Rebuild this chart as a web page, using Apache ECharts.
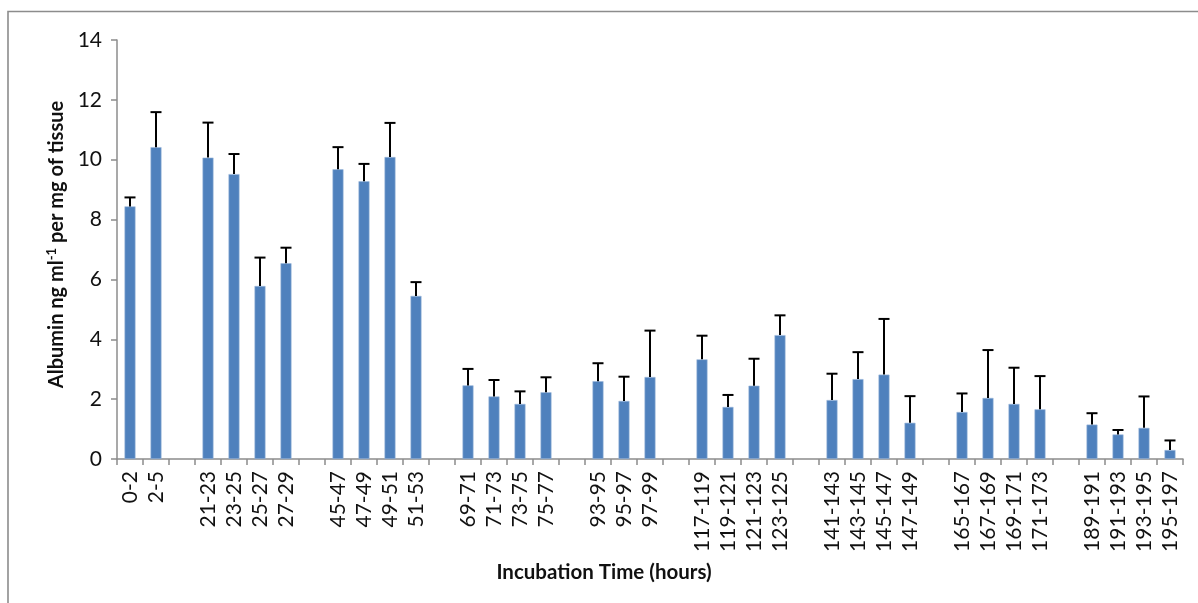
<!DOCTYPE html>
<html>
<head>
<meta charset="utf-8">
<script src="https://cdn.jsdelivr.net/npm/echarts@6/dist/echarts.min.js"></script>
<style>
  html, body { margin: 0; padding: 0; background: #fff; }
  #chart { width: 1198px; height: 603px; }
</style>
</head>
<body>
<div id="chart"></div>
<script>
// Incubation intervals (hours); empty strings separate the daily groups
const categories = [
  '0-2', '2-5', '',
  '21-23', '23-25', '25-27', '27-29', '',
  '45-47', '47-49', '49-51', '51-53', '',
  '69-71', '71-73', '73-75', '75-77', '',
  '93-95', '95-97', '97-99', '',
  '117-119', '119-121', '121-123', '123-125', '',
  '141-143', '143-145', '145-147', '147-149', '',
  '165-167', '167-169', '169-171', '171-173', '',
  '189-191', '191-193', '193-195', '195-197'
];

// Mean albumin (ng ml-1 per mg of tissue)
const albumin = [
  8.44, 10.42, null,
  10.07, 9.52, 5.78, 6.54, null,
  9.68, 9.28, 10.09, 5.45, null,
  2.46, 2.09, 1.84, 2.23, null,
  2.60, 1.94, 2.74, null,
  3.33, 1.74, 2.45, 4.14, null,
  1.97, 2.67, 2.82, 1.21, null,
  1.57, 2.04, 1.84, 1.66, null,
  1.15, 0.82, 1.04, 0.30
];

// Standard deviation (upper error bar length)
const stdDev = [
  0.30, 1.17, null,
  1.17, 0.67, 0.95, 0.52, null,
  0.74, 0.58, 1.14, 0.46, null,
  0.55, 0.55, 0.42, 0.50, null,
  0.60, 0.81, 1.55, null,
  0.79, 0.40, 0.90, 0.66, null,
  0.88, 0.90, 1.86, 0.89, null,
  0.62, 1.60, 1.21, 1.11, null,
  0.38, 0.15, 1.05, 0.32
];

const yTicks = { min: 0, max: 14, interval: 2 };

const errorData = [];
albumin.forEach(function (v, i) {
  if (v !== null) errorData.push([i, v, stdDev[i]]);
});

const FONT = 'Lato';
const chart = echarts.init(document.getElementById('chart'), null, { renderer: 'canvas' });

chart.setOption({
  animation: false,
  backgroundColor: '#ffffff',
  grid: { left: 117, right: 15, top: 40, bottom: 144, containLabel: false },
  graphic: [
    {
      type: 'polyline',
      shape: { points: [[8, 700], [8, 11.5], [1300, 11.5]] },
      style: { stroke: '#8c8c8c', lineWidth: 1.6, fill: null },
      silent: true
    }
  ],
  xAxis: {
    type: 'category',
    data: categories,
    axisLine: { show: true, lineStyle: { color: '#8c8c8c', width: 1.5 } },
    axisTick: { show: true, interval: 0, length: 6, lineStyle: { color: '#8c8c8c', width: 1.5 } },
    axisLabel: {
      interval: 0, rotate: 90, margin: 12,
      color: '#111', fontFamily: FONT, fontSize: 21
    },
    name: 'Incubation Time (hours)',
    nameLocation: 'middle',
    nameGap: 103,
    nameTextStyle: {
      color: '#111', fontFamily: FONT, fontSize: 20.5, fontWeight: 'bold',
      padding: [0, 92, 0, 0]
    }
  },
  yAxis: {
    type: 'value',
    min: yTicks.min, max: yTicks.max, interval: yTicks.interval,
    splitLine: { show: false },
    axisLine: { show: true, lineStyle: { color: '#8c8c8c', width: 1.5 } },
    axisTick: { show: true, length: 6, lineStyle: { color: '#8c8c8c', width: 1.5 } },
    axisLabel: { margin: 15, color: '#111', fontFamily: FONT, fontSize: 21 },
    name: '{b|Albumin ng ml}{sup|-1}{b| per mg of tissue}',
    nameLocation: 'middle',
    nameRotate: 90,
    nameGap: 45,
    nameTextStyle: {
      padding: [0, 0, 0, 10],
      rich: {
        b: { color: '#111', fontFamily: FONT, fontSize: 20, fontWeight: 'bold' },
        sup: { color: '#111', fontFamily: FONT, fontSize: 13, fontWeight: 'bold', verticalAlign: 'top', padding: [0, 0, 9, 0] }
      }
    }
  },
  series: [
    {
      type: 'bar',
      data: albumin,
      barWidth: 11,
      itemStyle: { color: '#4f81bd', borderColor: '#9db8dc', borderWidth: 0.6 }
    },
    {
      type: 'custom',
      data: errorData,
      z: 5,
      encode: { x: 0, y: 1 },
      renderItem: function (params, api) {
        const idx = api.value(0);
        const mean = api.value(1);
        const sd = api.value(2);
        const base = api.coord([idx, mean]);
        const top = api.coord([idx, mean + sd]);
        const half = 5.5;
        return {
          type: 'group',
          children: [
            { type: 'line', shape: { x1: base[0], y1: base[1], x2: top[0], y2: top[1] },
              style: { stroke: '#000', lineWidth: 2 } },
            { type: 'line', shape: { x1: top[0] - half, y1: top[1], x2: top[0] + half, y2: top[1] },
              style: { stroke: '#000', lineWidth: 2 } }
          ]
        };
      }
    }
  ]
});
</script>
</body>
</html>
